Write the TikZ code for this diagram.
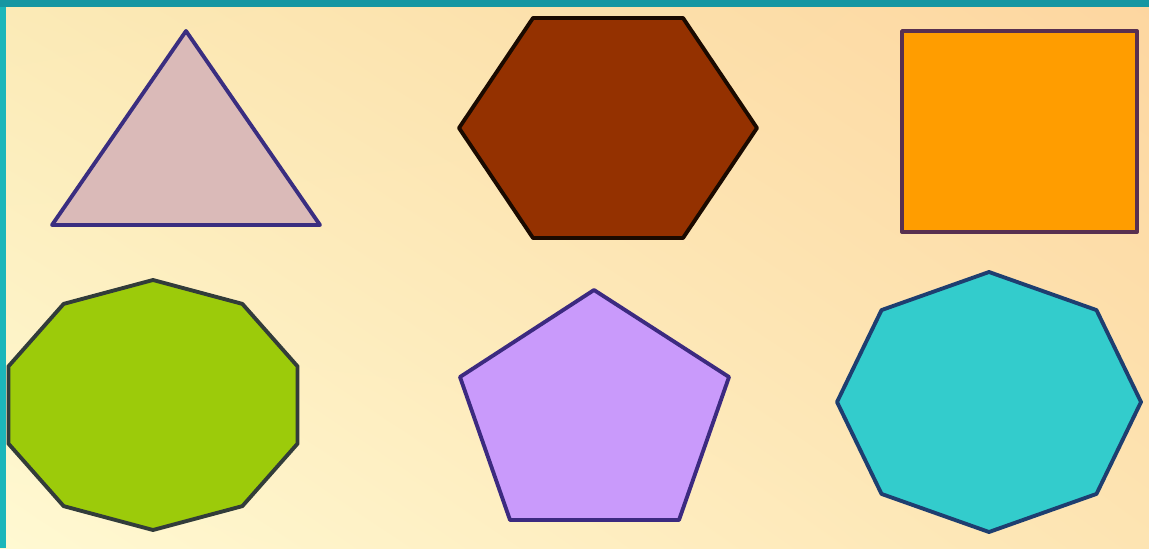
\documentclass[tikz,border=0pt]{standalone}
\usepackage{tikz}
\usetikzlibrary{calc,shadings}
\definecolor{bgtl}{RGB}{251,234,182}
\definecolor{bgtr}{RGB}{253,214,160}
\definecolor{bgbl}{RGB}{255,249,210}
\definecolor{bgbr}{RGB}{253,228,178}
\definecolor{framebar}{RGB}{22,150,162}
\definecolor{frameside}{RGB}{28,182,186}
\definecolor{trifill}{RGB}{218,186,184}
\definecolor{trieedge}{RGB}{58,46,128}
\definecolor{hexfill}{RGB}{148,49,0}
\definecolor{hexedge}{RGB}{26,10,0}
\definecolor{sqfill}{RGB}{255,157,0}
\definecolor{sqedge}{RGB}{88,48,80}
\definecolor{decfill}{RGB}{156,203,10}
\definecolor{decedge}{RGB}{50,60,58}
\definecolor{pentfill}{RGB}{201,154,251}
\definecolor{pentedge}{RGB}{60,42,128}
\definecolor{octfill}{RGB}{51,204,204}
\definecolor{octedge}{RGB}{30,62,112}

\begin{document}
\begin{tikzpicture}[x=0.02cm, y=-0.02cm, line join=round,
    polyline/.style={line width=2.2pt}]

% background and frame
\useasboundingbox (0,0) rectangle (1149,548);
\shade[upper left=bgtl, upper right=bgtr, lower left=bgbl, lower right=bgbr]
    (0,0) rectangle (1149,548);
\fill[frameside] (0,0) rectangle (6,548);
\fill[framebar] (0,0) rectangle (1149,7);

% ==================== TOP ROW ====================

% Triangle
\draw[polyline, draw=trieedge, fill=trifill]
    (186,31) -- (320,225) -- (52,225) -- cycle;

% Hexagon
\draw[polyline, draw=hexedge, fill=hexfill]
    (533,18) -- (683,18) -- (757,128) -- (683,238) -- (533,238) -- (459,128) -- cycle;

% Square
\draw[polyline, draw=sqedge, fill=sqfill] (902,31) rectangle (1137,232);

% ==================== BOTTOM ROW ====================

% Decagon (centre 153,405)
\draw[polyline, draw=decedge, fill=decfill]
    plot[samples=11, domain=90:450] ({153+152*cos(\x)}, {405+125*sin(\x)}) -- cycle;

% Pentagon
\draw[polyline, draw=pentedge, fill=pentfill]
    (594,290) -- (729,377) -- (679,520) -- (510,520) -- (460,377) -- cycle;

% Octagon (centre 989,402)
\draw[polyline, draw=octedge, fill=octfill]
    plot[samples=9, domain=90:450] ({989+152*cos(\x)}, {402+130*sin(\x)}) -- cycle;

\end{tikzpicture}
\end{document}
